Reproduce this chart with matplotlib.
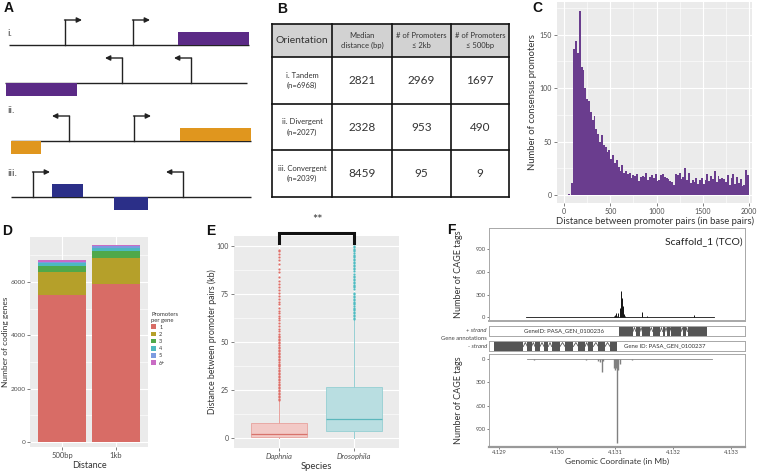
import numpy as np
import matplotlib
matplotlib.use("Agg")
import matplotlib.pyplot as plt

plt.rcParams['font.family'] = ['Lato', 'DejaVu Sans']

W, H = 757, 474

# ---------------- Panel A schematic (schematic units) ----------------
A_rows_line = [(9, 249, 45), (5, 247, 83), (11, 251, 141), (11, 251, 197)]
A_promoters = [  # (x, base_y, direction)
    (65, 45, 1), (133, 45, 1),
    (122, 83, -1), (191, 83, -1),
    (69, 141, -1), (134, 141, 1),
    (33, 197, 1), (183, 197, -1)]
A_genes = [  # (x0, x1, base_y, side(-1 above, +1 below), color)
    (178, 249, 45, -1, '#5B2A86'),
    (6, 77, 83, 1, '#5B2A86'),
    (11, 41, 141, 1, '#E0961E'),
    (180, 251, 141, -1, '#E0961E'),
    (52, 83, 197, -1, '#2B2F88'),
    (114, 148, 197, 1, '#2B2F88')]
A_row_labels = [('i.', 33), ('ii.', 110), ('iii.', 173)]

# ---------------- Panel B table ----------------
B_header = ['Orientation', 'Median\ndistance (bp)', '# of Promoters\n\u2264 2kb', '# of Promoters\n\u2264 500bp']
B_rows = ['i. Tandem\n(n=6968)', 'ii. Divergent\n(n=2027)', 'iii. Convergent\n(n=2039)']
B_median = ['2821', '2328', '8459']
B_2kb = ['2969', '953', '95']
B_500 = ['1697', '490', '9']

# ---------------- Panel C histogram ----------------
C_binwidth = 20
C_counts = [0, 0, 1, 0,
            11, 137, 144, 133, 172, 120, 117, 100, 90, 88,
            78, 70, 74, 62, 57, 50, 56, 47, 45, 40,
            42, 34, 37, 30, 33, 26, 22, 28, 21, 22,
            20, 21, 16, 19, 18, 20, 13, 17, 18, 17,
            21, 14, 17, 19, 16, 20, 13, 14, 19, 20,
            17, 16, 15, 13, 12, 9, 20, 19, 21, 15,
            17, 25, 14, 21, 11, 14, 12, 16, 10, 14,
            16, 10, 14, 20, 13, 18, 15, 22, 12, 18,
            15, 16, 15, 12, 19, 9, 16, 20, 10, 17,
            11, 15, 8, 9, 23, 19]

# ---------------- Panel D stacked bars ----------------
D_distances = ['500bp', '1kb']
D_groups = ['1', '2', '3', '4', '5', '6+']
D_values = {
    '1': [5530, 5920],
    '2': [840, 975],
    '3': [240, 280],
    '4': [110, 100],
    '5': [50, 65],
    '6+': [40, 50]}
D_colors = ['#D86C66', '#B5A02A', '#4FA84A', '#4DB9C0', '#7C9BE0', '#C96CC4']

# ---------------- Panel E boxplot ----------------
E_species = ['Daphnia', 'Drosophila']
E_q1 = [0.5, 3.6]
E_med = [2.2, 9.8]
E_q3 = [8.1, 26.7]
E_whislo = [0.0, 0.0]
E_whishi = [19.8, 61.2]
E_daphnia_out = [19.9, 20.6, 21.4, 22.1, 22.9, 23.6, 24.5, 25.2, 26.0, 26.9, 27.7, 28.4,
                 29.3, 30.1, 30.8, 31.7, 32.5, 33.2, 34.1, 34.9, 35.6, 36.4, 37.3, 38.0,
                 38.8, 39.7, 40.5, 41.2, 42.0, 42.9, 43.7, 44.4, 45.3, 46.1, 46.8, 47.6,
                 48.5, 49.3, 50.0, 50.9, 51.7, 52.4, 53.3, 54.1, 55.5, 56.8, 58.4, 59.9,
                 61.2, 62.5, 63.4, 64.9, 66.3, 67.8, 69.5, 70.6, 72.1, 73.8, 75.2, 76.9,
                 78.3, 80.1, 81.7, 83.9, 86.2, 88.0, 90.3, 92.6, 94.1, 95.8, 97.0, 97.9]
E_drosophila_out = [61.8, 62.6, 63.3, 64.1, 64.9, 65.6, 66.4, 67.2, 67.9, 68.7, 69.5, 70.2,
                    71.0, 71.8, 72.5, 73.3, 74.1, 74.8, 75.6, 77.5, 78.3, 79.0, 79.8, 80.6,
                    81.3, 82.1, 82.9, 83.6, 84.4, 85.2, 87.0, 87.8, 88.5, 89.3, 90.1, 90.8,
                    91.6, 92.4, 93.1, 93.9, 94.7, 95.4, 96.2, 97.0, 97.7, 98.5, 99.3, 100.0]
E_box_face = ['#F2C9C6', '#B9DEE1']
E_box_edge = ['#E8A29D', '#95CFD3']
E_median_col = ['#D8736C', '#5CB7BC']
E_point_col = ['#DE6F68', '#4FBCC2']

# ---------------- Panel F genome tracks ----------------
F_plus_region = [4.12947, 4.13270]
F_plus_pos = [4.13098, 4.13100, 4.13102, 4.13104, 4.13106, 4.13108, 4.13110, 4.13112,
              4.13114, 4.13116, 4.13118, 4.13125, 4.13146, 4.13155, 4.13169, 4.13224,
              4.13237, 4.13240]
F_plus_cnt = [15, 30, 55, 20, 60, 120, 340, 250, 150, 40, 20, 10, 65, 12, 8, 8, 25, 10]
F_minus_region = [4.12948, 4.13268]
F_minus_pos = [4.12960, 4.13020, 4.13050, 4.13070, 4.13075, 4.13077, 4.13080, 4.13098,
               4.13100, 4.13102, 4.13103, 4.13105, 4.13108, 4.13130, 4.13160]
F_minus_cnt = [8, 6, 8, 20, 40, 163, 30, 110, 140, 120, 1076, 137, 60, 8, 6]
F_plus_exons = [(4.13107, 4.13131), (4.13136, 4.13143), (4.13147, 4.13160), (4.13165, 4.13178),
                (4.13182, 4.13186), (4.13190, 4.13194), (4.13197, 4.13214), (4.13218, 4.13222),
                (4.13225, 4.13259)]
F_minus_exons = [(4.128914, 4.129419), (4.129489, 4.129563), (4.129621, 4.129707),
                 (4.129776, 4.129851), (4.129908, 4.130052), (4.130138, 4.130282),
                 (4.130368, 4.130483), (4.130540, 4.130626), (4.130713, 4.130828),
                 (4.130914, 4.131040)]
F_xticks = [4.129, 4.130, 4.131, 4.132, 4.133]
F_yticks = [0, 300, 600, 900]

# ======================================================================
fig = plt.figure(figsize=(W / 100, H / 100), dpi=100)
fig.patch.set_facecolor('white')


def add_ax(l, t, r, b, **kw):
    return fig.add_axes([l / W, 1 - b / H, (r - l) / W, (b - t) / H], **kw)


GG_BG = '#EBEBEB'
TICKC = '#4D4D4D'


def gg_style(ax, xmajor=None, xminor=None, ymajor=None, yminor=None):
    ax.set_facecolor(GG_BG)
    for s in ax.spines.values():
        s.set_visible(False)
    if xmajor is not None:
        ax.set_xticks(xmajor)
    if ymajor is not None:
        ax.set_yticks(ymajor)
    if xminor is not None:
        ax.set_xticks(xminor, minor=True)
    if yminor is not None:
        ax.set_yticks(yminor, minor=True)
    ax.grid(True, which='major', color='white', lw=0.8)
    ax.grid(True, which='minor', color='white', lw=0.4)
    ax.set_axisbelow(True)
    ax.tick_params(which='major', length=2, width=0.5, color=TICKC, labelcolor=TICKC,
                   labelsize=5, pad=1.5)
    ax.tick_params(which='minor', length=0)


# -------- overlay for A and B --------
ov = add_ax(0, 0, W, H)
ov.set_xlim(0, W)
ov.set_ylim(H, 0)
ov.axis('off')

for x0, x1, y in A_rows_line:
    ov.plot([x0, x1], [y, y], color='#222222', lw=1.0, solid_capstyle='butt')
for x, y, d in A_promoters:
    top = y - 25
    ov.plot([x, x], [y, top], color='#222222', lw=1.0)
    ov.annotate('', xy=(x + d * 17, top), xytext=(x - d * 0.5, top),
                arrowprops=dict(arrowstyle='-|>,head_length=0.3,head_width=0.15',
                                color='#222222', lw=1.0, shrinkA=0, shrinkB=0))
for x0, x1, y, side, col in A_genes:
    h = 13
    yb = y if side > 0 else y - h
    ov.add_patch(plt.Rectangle((x0, yb), x1 - x0, h, facecolor=col, edgecolor='none', zorder=3))
for lab, y in A_row_labels:
    ov.text(7, y, lab, fontsize=7.5, color='#444444', va='center', ha='left')

# table B
cx = [272, 332, 392, 451, 509]
ry = [24, 57, 104, 150, 197]
ov.add_patch(plt.Rectangle((cx[0], ry[0]), cx[-1] - cx[0], ry[1] - ry[0], facecolor='#D2D2D2',
                           edgecolor='none'))
for x in cx:
    ov.plot([x, x], [ry[0], ry[-1]], color='#111111', lw=1.2)
for y in ry:
    ov.plot([cx[0], cx[-1]], [y, y], color='#111111', lw=1.2)
for j, txt in enumerate(B_header):
    xc = (cx[j] + cx[j + 1]) / 2
    fs = 7.5 if j == 0 else 5.5
    ov.text(xc, (ry[0] + ry[1]) / 2, txt, ha='center', va='center', fontsize=fs,
            color='#333333', linespacing=1.5)
for i in range(3):
    yc = (ry[i + 1] + ry[i + 2]) / 2
    ov.text((cx[0] + cx[1]) / 2, yc, B_rows[i], ha='center', va='center', fontsize=5.5,
            color='#333333', linespacing=1.5)
    for j, vals in enumerate([B_median, B_2kb, B_500]):
        ov.text((cx[j + 1] + cx[j + 2]) / 2, yc, vals[i], ha='center', va='center',
                fontsize=8.5, color='#333333')

# panel letters
for lab, x, y in [('A', 4, 8), ('B', 277, 9), ('C', 532, 8), ('D', 2, 231), ('E', 206, 231),
                  ('F', 447, 230)]:
    ov.text(x, y, lab, fontsize=10, fontweight='bold', family='Liberation Sans',
            ha='left', va='center', color='#111111')

# -------- Panel C --------
axC = add_ax(557, 2, 752, 203)
edges = np.arange(len(C_counts)) * C_binwidth
axC.bar(edges, C_counts, width=C_binwidth, align='edge', color='#6A3D8E', edgecolor='none')
axC.set_xlim(-76, 2032)
axC.set_ylim(-7.5, 180.5)
gg_style(axC, xmajor=[0, 500, 1000, 1500, 2000], xminor=[250, 750, 1250, 1750],
         ymajor=[0, 50, 100, 150], yminor=[25, 75, 125, 175])
axC.set_xlabel('Distance between promoter pairs (in base pairs)', fontsize=6.8, color='#333333',
               labelpad=1.5)
axC.set_ylabel('Number of consensus promoters', fontsize=6.8, color='#333333', labelpad=2)

# -------- Panel D --------
axD = add_ax(30, 237, 148, 447)
xpos = np.arange(1, len(D_distances) + 1)
bottom = np.zeros(len(D_distances))
for g, c in zip(D_groups, D_colors):
    vals = np.array(D_values[g], dtype=float)
    axD.bar(xpos, vals, bottom=bottom, width=0.9, color=c, edgecolor='none', label=g)
    bottom += vals
axD.set_xlim(0.4, 2.6)
axD.set_ylim(-187, 7690)
gg_style(axD, xmajor=list(xpos), ymajor=[0, 2000, 4000, 6000], yminor=[1000, 3000, 5000, 7000])
axD.set_xticklabels(D_distances)
axD.tick_params(axis='x', labelsize=5.5)
axD.tick_params(axis='y', labelsize=4.6, pad=1)
axD.set_xlabel('Distance', fontsize=6.5, color='#333333', labelpad=1.5)
axD.set_ylabel('Number of coding genes', fontsize=6.0, color='#333333')
axD.yaxis.set_label_coords(-0.175, 0.5)
leg = axD.legend(title='Promoters\nper gene', loc='upper left', bbox_to_anchor=(1.0, 0.66),
                 frameon=False, fontsize=4, title_fontsize=4.2, handlelength=0.9,
                 handleheight=0.9, labelspacing=0.35, handletextpad=0.5, borderaxespad=0.2)
leg._legend_box.align = 'left'
for t in leg.get_texts():
    t.set_color('#333333')
leg.get_title().set_color('#333333')

# -------- Panel E --------
axE = add_ax(234, 236, 399, 448)
stats = []
fliers = [E_daphnia_out, E_drosophila_out]
for i in range(2):
    stats.append(dict(med=E_med[i], q1=E_q1[i], q3=E_q3[i], whislo=E_whislo[i],
                      whishi=E_whishi[i], fliers=[], label=E_species[i]))
for i in range(2):
    axE.bxp([stats[i]], positions=[i + 1], widths=0.75, patch_artist=True, showcaps=False,
            boxprops=dict(facecolor=E_box_face[i], edgecolor=E_box_edge[i], lw=0.6),
            whiskerprops=dict(color=E_box_edge[i], lw=0.7),
            medianprops=dict(color=E_median_col[i], lw=0.9),
            manage_ticks=False)
    axE.plot(np.full(len(fliers[i]), i + 1.0), fliers[i], 'o', ms=1.6, mec='none',
             color=E_point_col[i])
axE.set_xlim(0.4, 2.6)
axE.set_ylim(-5, 105)
gg_style(axE, xmajor=[1, 2], ymajor=[0, 25, 50, 75, 100], yminor=[12.5, 37.5, 62.5, 87.5])
axE.set_xticklabels(E_species, fontstyle='italic', fontsize=5.5)
axE.set_xlabel('Species', fontsize=6.8, color='#333333', labelpad=1.5)
axE.set_ylabel('Distance between promoter pairs (kb)', fontsize=6.3, color='#333333')
axE.yaxis.set_label_coords(-0.105, 0.5)
# significance bracket
axE.plot([1, 1, 2, 2], [101.4, 106.8, 106.8, 101.4], color='#111111', lw=2.2, clip_on=False,
         solid_joinstyle='miter')
axE.text(1.51, 113.5, '**', ha='center', va='center', fontsize=9, color='#333333', clip_on=False)

# -------- Panel F --------
FX = (4.128828, 4.133241)
SPC = '#A8A8A8'


def f_style(ax):
    ax.set_facecolor('white')
    for s in ax.spines.values():
        s.set_color(SPC)
        s.set_linewidth(0.7)
    ax.tick_params(length=1.5, width=0.5, color=TICKC, labelcolor=TICKC, labelsize=4.2, pad=1)


axF1 = add_ax(489, 228, 745, 321)
axF1.plot(F_plus_region, [0, 0], color='#111111', lw=0.6)
axF1.vlines(F_plus_pos, 0, F_plus_cnt, color='#111111', lw=0.7)
axF1.set_xlim(*FX)
axF1.set_ylim(-49, 1177)
axF1.set_yticks(F_yticks)
axF1.set_xticks([])
f_style(axF1)
axF1.spines['bottom'].set_linewidth(1.4)
axF1.set_ylabel('Number of CAGE tags', fontsize=6.5, color='#333333')
axF1.yaxis.set_label_coords(-0.1, 0.5)
axF1.text(0.99, 0.84, 'Scaffold_1 (TCO)', transform=axF1.transAxes, ha='right', va='center',
          fontsize=7.5, color='#222222')

GENE_C = '#555555'


def gene_track(ax, exons, label, lx):
    ax.set_xlim(*FX)
    ax.set_ylim(0, 1)
    ax.set_xticks([])
    ax.set_yticks([])
    f_style(ax)
    for s, e in exons:
        ax.add_patch(plt.Rectangle((s, 0.0), e - s, 1.0, facecolor=GENE_C, edgecolor='none'))
    for (s1, e1), (s2, e2) in zip(exons[:-1], exons[1:]):
        m = (e1 + s2) / 2
        ax.plot([e1, m, s2], [0.45, 0.85, 0.45], color=GENE_C, lw=0.6)
    ax.text(lx, 0.5, label, ha='center', va='center', fontsize=4.3, color='#333333')


axG1 = add_ax(489, 326, 745, 336)
gene_track(axG1, F_plus_exons, 'GeneID: PASA_GEN_0100236', 4.13012)
axG2 = add_ax(489, 341, 745, 351)
gene_track(axG2, F_minus_exons, 'Gene ID: PASA_GEN_0100237', 4.13186)
ov.text(487, 331, '+ strand', ha='right', va='center', fontsize=4.2, fontstyle='italic',
        color='#444444')
ov.text(487, 338.5, 'Gene annotations', ha='right', va='center', fontsize=4.2, color='#444444')
ov.text(487, 346, '- strand', ha='right', va='center', fontsize=4.2, fontstyle='italic',
        color='#444444')

axF2 = add_ax(489, 354, 745, 447)
axF2.plot(F_minus_region, [0, 0], color='#888888', lw=0.6)
axF2.vlines(F_minus_pos, 0, F_minus_cnt, color='#808080', lw=1.0)
axF2.set_xlim(*FX)
axF2.set_ylim(1131, -64)
axF2.set_yticks(F_yticks)
axF2.set_xticks(F_xticks)
axF2.set_xticklabels(['%.3f' % v for v in F_xticks])
f_style(axF2)
axF2.spines['bottom'].set_linewidth(1.6)
axF2.spines['bottom'].set_color('#999999')
axF2.set_ylabel('Number of CAGE tags', fontsize=6.5, color='#333333')
axF2.yaxis.set_label_coords(-0.1, 0.5)
axF2.set_xlabel('Genomic Coordinate (in Mb)', fontsize=6, color='#333333', labelpad=2)

fig.savefig('out.png', dpi=100, facecolor='white')
